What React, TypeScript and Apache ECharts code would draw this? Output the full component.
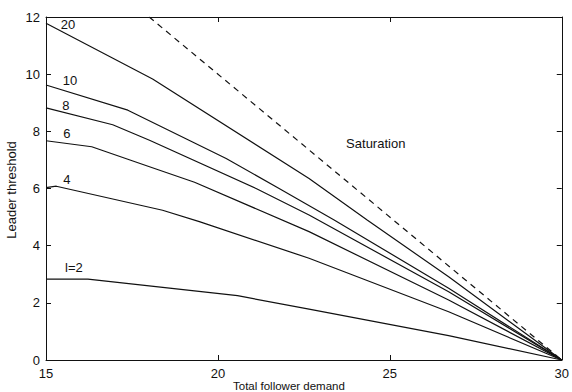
import React, { useEffect, useRef } from "react";
import * as echarts from "echarts";

const xTicks = [15, 20, 25, 30];
const yTicks = [0, 2, 4, 6, 8, 10, 12];

const line20 = [[15, 11.78], [18.1, 9.83], [22.65, 6.35], [24.34, 4.9], [26.71, 2.91], [30, 0]];
const line10 = [[15, 9.62], [17.38, 8.74], [20.24, 7.05], [21.78, 6.0], [23.38, 4.9], [26.71, 2.51], [30, 0]];
const line8 = [[15, 8.82], [16.94, 8.23], [18.01, 7.69], [21.11, 6.0], [22.65, 5.07], [26.71, 2.39], [30, 0]];
const line6 = [[15, 7.67], [16.33, 7.46], [18.01, 6.76], [19.32, 6.22], [22.65, 4.49], [26.71, 2.1], [30, 0]];
const line4 = [[15, 6.03], [15.3, 6.08], [18.39, 5.24], [19.46, 4.84], [22.65, 3.56], [26.71, 1.69], [30, 0]];
const line2 = [[15, 2.83], [16.22, 2.83], [20.57, 2.25], [22.65, 1.78], [26.71, 0.85], [30, 0]];
const saturation = [[18, 12], [30, 0]];

const curveLabels = ["20", "10", "8", "6", "4", "l=2", "Saturation"];
const labelX = [15.64, 15.7, 15.58, 15.61, 15.61, 15.81, 24.59];
const labelY = [11.75, 9.79, 8.92, 7.94, 6.33, 3.25, 7.59];

const FONT = "'Liberation Sans', Arial, Helvetica, sans-serif";
const INK = "#111111";

export default function App() {
  const ref = useRef<HTMLDivElement>(null);
  useEffect(() => {
    if (!ref.current) return;
    const chart = echarts.init(ref.current, null, { renderer: "svg" });
    const axisCommon = {
      type: "value" as const,
      splitLine: { show: false },
      axisLine: { show: true, onZero: false, lineStyle: { color: INK, width: 1 } },
      axisTick: { show: true, inside: true, length: 5, lineStyle: { color: INK } },
    };
    const lineSeries = (data: number[][], dashed = false) => ({
      type: "line",
      data,
      showSymbol: false,
      silent: true,
      lineStyle: { color: INK, width: 1.2, type: dashed ? [6, 5] : "solid" },
      z: 3,
    });
    chart.setOption({
      animation: false,
      backgroundColor: "#fff",
      grid: { left: 46, right: 9, top: 17, bottom: 32, containLabel: false },
      xAxis: [
        {
          ...axisCommon,
          min: xTicks[0],
          max: xTicks[xTicks.length - 1],
          interval: 5,
          position: "bottom",
          axisLabel: { color: INK, fontSize: 13, fontFamily: FONT, margin: 7 },
        },
        {
          ...axisCommon,
          min: xTicks[0],
          max: xTicks[xTicks.length - 1],
          interval: 5,
          position: "top",
          axisLabel: { show: false },
        },
      ],
      yAxis: [
        {
          ...axisCommon,
          min: yTicks[0],
          max: yTicks[yTicks.length - 1],
          interval: 2,
          position: "left",
          axisLabel: { color: INK, fontSize: 13, fontFamily: FONT, margin: 6 },
        },
        {
          ...axisCommon,
          min: yTicks[0],
          max: yTicks[yTicks.length - 1],
          interval: 2,
          position: "right",
          axisLabel: { show: false },
        },
      ],
      series: [
        lineSeries(line20),
        lineSeries(line10),
        lineSeries(line8),
        lineSeries(line6),
        lineSeries(line4),
        lineSeries(line2),
        lineSeries(saturation, true),
      ],
    });
    const labelGraphics = curveLabels.map((t, i) => {
      const p = chart.convertToPixel({ gridIndex: 0 }, [labelX[i], labelY[i]]) as number[];
      return {
        type: "text",
        x: p[0],
        y: p[1],
        style: {
          text: t,
          fill: INK,
          font: `13px ${FONT}`,
          align: "center",
          verticalAlign: "middle",
        },
      };
    });
    chart.setOption({
      graphic: [
        ...labelGraphics,
        {
          type: "text",
          left: 233,
          top: 380,
          style: { text: "Total follower demand", fill: INK, font: `11.5px ${FONT}` },
        },
        {
          type: "text",
          x: 11,
          y: 190,
          rotation: Math.PI / 2,
          style: {
            text: "Leader threshold",
            fill: INK,
            font: `13px ${FONT}`,
            align: "center",
            verticalAlign: "middle",
          },
        },
      ],
    });
    return () => chart.dispose();
  }, []);
  return <div ref={ref} style={{ width: 572, height: 392, position: "absolute", left: 0, top: 0 }} />;
}
